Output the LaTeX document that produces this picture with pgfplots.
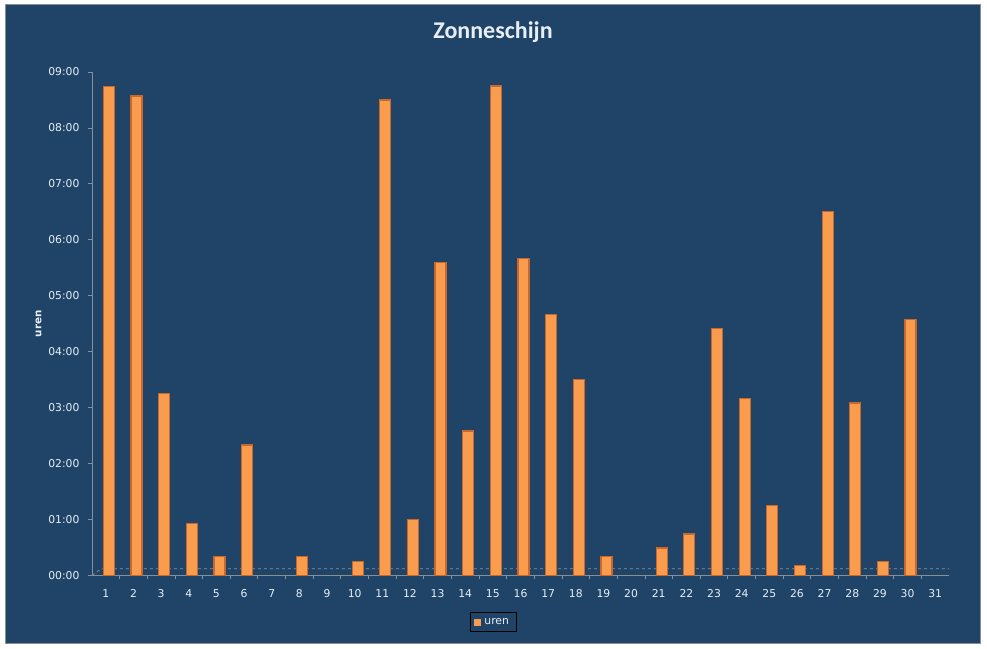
\documentclass[border=0pt]{standalone}
\usepackage{fontspec}
\setmainfont{DejaVu Sans}
\newfontfamily\titlefont{Carlito}
\usepackage{pgfplots}
\pgfplotsset{compat=1.18}

\definecolor{bg}{HTML}{1F4467}
\definecolor{fg}{HTML}{E8EEF5}
\definecolor{axisgray}{HTML}{8A8F96}
\definecolor{barmid}{HTML}{FA9C4E}
\definecolor{baredge}{HTML}{C8682C}

\begin{document}
\begin{tikzpicture}[x=1pt,y=1pt]
  % chart area
  \fill[white] (0,0) rectangle (987,648);
  \fill[bg] (5,5) rectangle (980,643);
  \draw[axisgray, line width=1pt] (5,5) rectangle (980,643);

  \begin{axis}[
    at={(92pt,72.7pt)}, anchor=south west,
    scale only axis,
    width=857pt, height=503.3pt,
    xmin=0.5, xmax=31.5,
    ymin=0, ymax=9,
    axis x line*=bottom,
    axis y line*=left,
    axis line style={draw=axisgray, line width=1pt},
    tick align=outside,
    major tick length=4pt,
    minor tick length=4pt,
    tick style={draw=axisgray, line width=0.8pt},
    /pgf/number format/assume math mode=true,
    %
    xtick={1,...,31},
    minor x tick num=1,
    major x tick style={draw=none},
    xticklabel style={yshift=-7pt},
    ytick={0,...,9},
    yticklabels={00:00,01:00,02:00,03:00,04:00,05:00,06:00,07:00,08:00,09:00},
    yticklabel style={xshift=-5pt},
    ticklabel style={font=\fontsize{10.8}{12}\selectfont, text=fg},
    %
    ylabel={uren},
    ylabel style={at={(axis description cs:-0.0624,0.5)}, anchor=center,
                  font=\bfseries\fontsize{10.3}{12}\selectfont, text=fg},
    %
    ybar,
    bar width=11pt,
    bar shift=3pt,
    legend style={at={(axis description cs:0.468,-0.093)}, anchor=center,
                  fill=bg, draw=black, line width=0.8pt, text=fg,
                  font=\fontsize{10.8}{12}\selectfont,
                  inner xsep=4pt, inner ysep=4pt,
                  nodes={inner xsep=3pt}},
    legend image code/.code={\fill[barmid] (0pt,-3pt) rectangle (6pt,3pt);},
  ]
    % 3D floor
    \draw[axisgray, dashed, line width=0.8pt]
      (axis cs:0.5,0) -- ([shift={(9pt,6.5pt)}]axis cs:0.5,0)
      -- ([shift={(9pt,6.5pt)}]axis cs:31.5,0) -- (axis cs:31.5,0);

    % sunshine hours per day (days 7, 9, 20 and 31: none)
    \addplot[draw=baredge, line width=1.2pt, fill=barmid]
      coordinates {
      (1,8.74) (2,8.57) (3,3.25) (4,0.92) (5,0.34) (6,2.33)
      (8,0.34) (10,0.25) (11,8.50) (12,1.00) (13,5.59) (14,2.58)
      (15,8.75) (16,5.66) (17,4.67) (18,3.50) (19,0.33) (21,0.49)
      (22,0.74) (23,4.42) (24,3.16) (25,1.25) (26,0.17) (27,6.50)
      (28,3.08) (29,0.24) (30,4.58)
    };
    \addlegendentry{uren}
  \end{axis}

  \node[text=fg, font=\titlefont\bfseries\fontsize{24}{28}\selectfont]
    at (493,616) {Zonneschijn};
\end{tikzpicture}
\end{document}
